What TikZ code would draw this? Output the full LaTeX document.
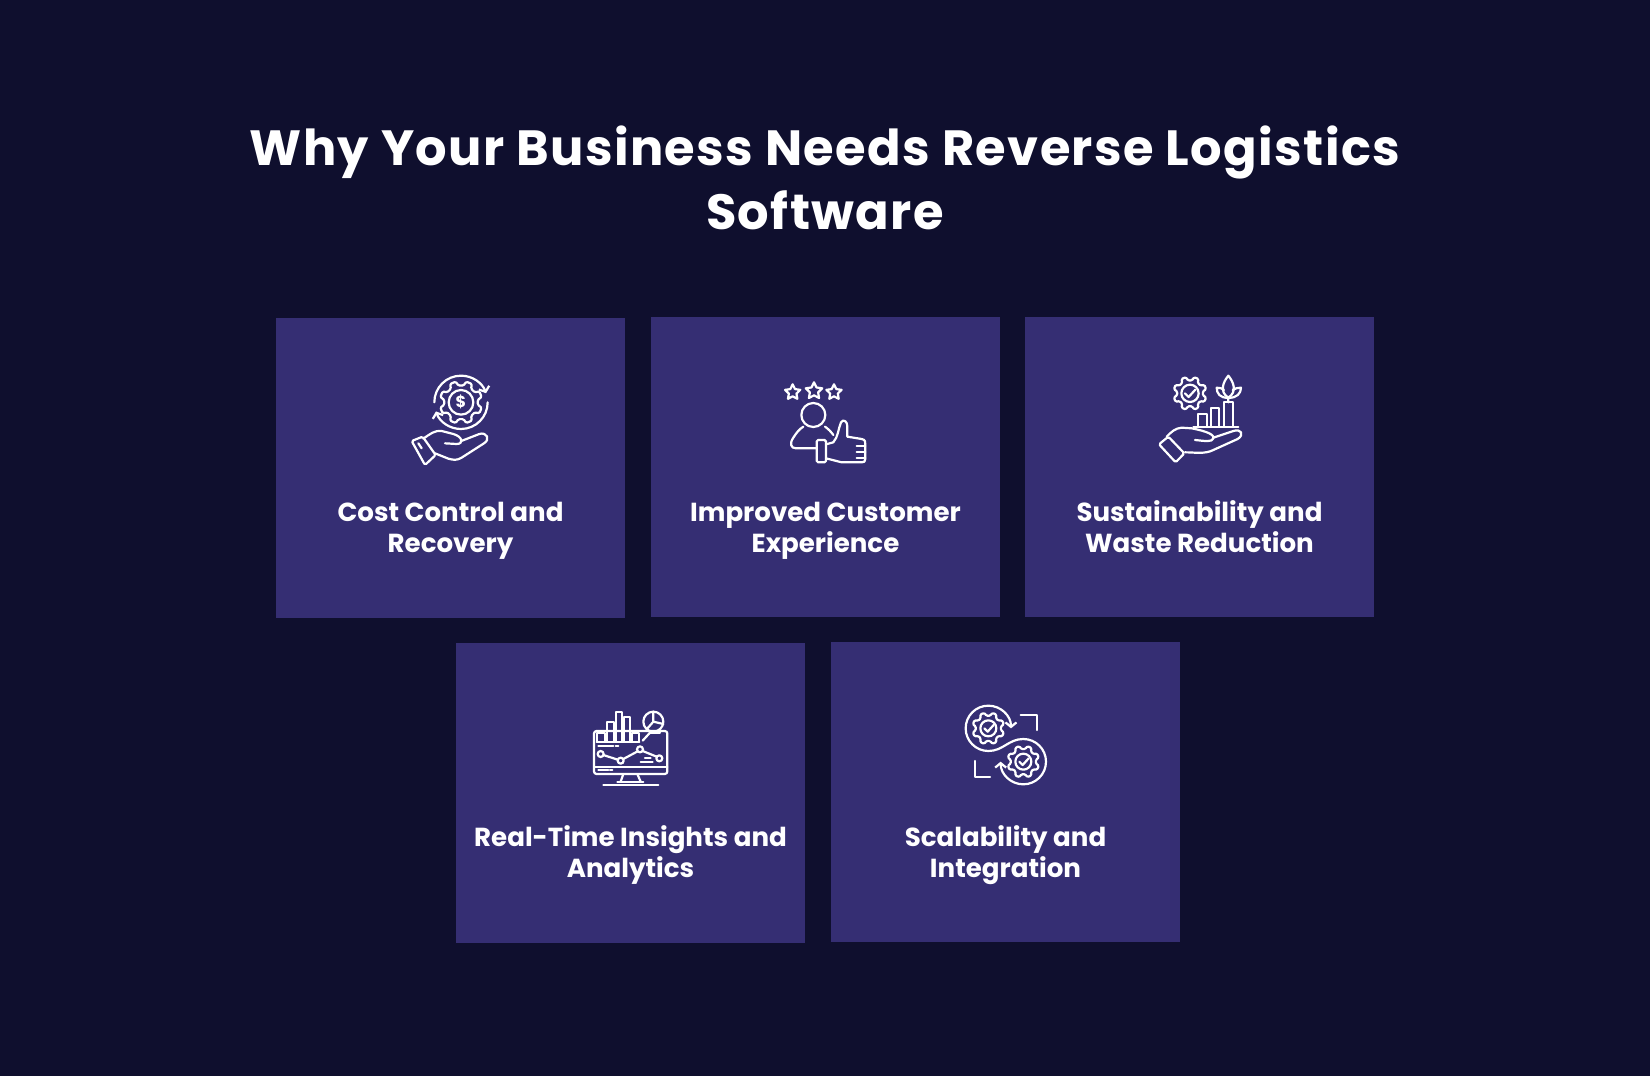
\documentclass[tikz,border=0pt]{standalone}
\usepackage{fontspec}
\setmainfont{Poppins}
\newfontfamily\headfont{Poppins}[LetterSpace=2.8]
\usepackage{xcolor}
\definecolor{pageNavy}{HTML}{0F0F2E}
\definecolor{cardIndigo}{HTML}{352E73}
\usetikzlibrary{arrows.meta, calc}

% gear outline: x, y, outer radius, inner radius
\newcommand{\gearicon}[4]{
  \begin{scope}[shift={(#1,#2)}]
    \draw[iconline, rounded corners=1.2pt] (8.5:#4)
      \foreach \k in {0,...,7} {
        -- ({45*\k+14.5}:#3) -- ({45*\k+30.5}:#3) -- ({45*\k+36.5}:#4) -- ({45*\k+53.5}:#4)
      } -- cycle;
  \end{scope}
}
% five pointed star: x, y, radius
\newcommand{\staricon}[3]{
  \begin{scope}[shift={(#1,#2)}]
    \draw[iconline] (-90:#3)
      \foreach \k in {0,...,4} {
        -- ({72*\k-54}:0.5*#3) -- ({72*\k-18}:#3)
      } -- cycle;
  \end{scope}
}

\begin{document}
\begin{tikzpicture}[x=1pt, y=-1pt,
  card/.style={fill=cardIndigo, minimum width=349pt, minimum height=300pt, inner sep=0pt},
  cardtext/.style={anchor=north, text=white, align=center, font=\fontsize{26.1}{30.5}\selectfont\bfseries},
  headline/.style={text=white, align=center, font=\fontsize{49.5}{64}\headfont\selectfont\bfseries},
  iconline/.style={draw=white, line width=2.2pt, line cap=round, line join=round},
  iconarrow/.style={iconline, {Straight Barb[length=4.5pt, width=11pt]}-{Straight Barb[length=4.5pt, width=11pt]}},
  iconcrop/.style 2 args={shift={(#1,#2)}, x=0.3333pt, y=-0.3333pt}]

  \fill[pageNavy] (0,0) rectangle (1650,1076);
  \useasboundingbox (0,0) rectangle (1650,1076);

  \node[headline] (title) at (825,178) {Why Your Business Needs Reverse Logistics\\Software};

  \node[card] (costCard) at (450.5,468) {};
  \node[card] (customerCard) at (825.5,467) {};
  \node[card] (wasteCard) at (1199.5,467) {};
  \node[card] (insightCard) at (630.5,793) {};
  \node[card] (scaleCard) at (1005.5,792) {};

  \node[cardtext] (costText) at ([yshift=-31pt]costCard.center) {Cost Control and\\Recovery};
  \node[cardtext] (customerText) at ([yshift=-32pt]customerCard.center) {Improved Customer\\Experience};
  \node[cardtext] (wasteText) at ([yshift=-30.5pt]wasteCard.center) {Sustainability and\\Waste Reduction};
  \node[cardtext] (insightText) at ([yshift=-29.5pt]insightCard.center) {Real-Time Insights and\\Analytics};
  \node[cardtext] (scaleText) at ([yshift=-30.5pt]scaleCard.center) {Scalability and\\Integration};

  % cost icon
  \begin{scope}[iconcrop={390}{360}]
    \gearicon{213}{127}{64}{51}
    \draw[iconline] (213,127) circle[radius=37];
    \node[text=white, font=\fontsize{16}{16}\selectfont\bfseries] (costDollar) at (213,127) {\$};
    \draw[iconline, -{Straight Barb[length=4.5pt, width=11pt]}] (213,127) ++(180:80) arc (180:340:80);
    \draw[iconline, -{Straight Barb[length=4.5pt, width=11pt]}] (213,127) ++(0:80) arc (0:160:80);
    \draw[iconline, rounded corners=1.5pt] (65,243) -- (98,230) -- (137,285) -- (105,315) -- cycle;
    \draw[iconline] (85,250) -- (95,265);
    \draw[iconline] (100,236) .. controls (120,222) and (135,210) .. (155,213) -- (190,222)
      .. controls (218,230) and (222,252) .. (200,252) -- (165,250);
    \draw[iconline] (214,243) -- (268,222) .. controls (290,215) and (302,238) .. (282,250)
      -- (215,293) .. controls (200,302) and (190,300) .. (175,296) -- (135,280);
  \end{scope}

  % customer icon
  \begin{scope}[iconcrop={770}{365}]
    \staricon{68}{82}{24}
    \staricon{132}{78}{26}
    \staricon{192}{82}{24}
    \draw[iconline] (130,150) circle[radius=36];
    \draw[iconline] (140,250) -- (78,250) .. controls (62,250) and (58,235) .. (70,218)
      .. controls (78,205) and (88,192) .. (100,185);
    \draw[iconline] (165,185) .. controls (175,192) and (183,200) .. (190,210);
    \draw[iconline, rounded corners=1.5pt] (140,225) rectangle (168,292);
    \draw[iconline] (168,238) -- (190,232) .. controls (205,215) and (205,190) .. (213,172)
      .. controls (220,160) and (233,170) .. (232,185) -- (232,215) -- (275,222)
      .. controls (287,224) and (286,232) .. (286,240) -- (286,282)
      .. controls (286,290) and (282,292) .. (275,292) -- (215,292) -- (168,280);
    \draw[iconline] (260,243) -- (286,243);
    \draw[iconline] (260,262) -- (286,262);
    \draw[iconline] (260,280) -- (286,280);
  \end{scope}

  % waste icon
  \begin{scope}[iconcrop={1145}{365}]
    \gearicon{135}{85}{50}{39}
    \draw[iconline] (135,85) circle[radius=26];
    \draw[iconline] (120,85) -- (131,96) -- (151,74);
    \draw[iconline] (160,183) -- (160,148) -- (185,148) -- (185,183);
    \draw[iconline] (197,183) -- (197,128) -- (223,128) -- (223,183);
    \draw[iconline] (238,183) -- (238,112) -- (265,112) -- (265,183);
    \draw[iconline] (145,187) -- (280,187);
    \draw[iconline] (250,112) -- (250,98) .. controls (222,80) and (235,50) .. (250,32)
      .. controls (265,50) and (278,80) .. (250,98);
    \draw[iconline] (250,98) .. controls (225,100) and (215,85) .. (215,68) .. controls (225,68) and (232,70) .. (237,75);
    \draw[iconline] (250,98) .. controls (275,100) and (288,85) .. (288,68) .. controls (278,68) and (270,70) .. (263,75);
    \draw[iconline, rounded corners=1.5pt] (42,238) -- (70,215) -- (118,265) -- (92,292) -- cycle;
    \draw[iconline] (65,215) .. controls (80,200) and (90,190) .. (110,188) -- (140,190)
      .. controls (165,195) and (210,205) .. (205,220) .. controls (202,232) and (180,228) .. (150,225);
    \draw[iconline] (205,218) -- (265,198) .. controls (290,190) and (298,210) .. (278,222)
      -- (205,255) .. controls (180,268) and (150,262) .. (120,262);
  \end{scope}

  % insight icon
  \begin{scope}[iconcrop={580}{700}]
    \draw[iconline, rounded corners=2.5pt] (42,93) rectangle (262,222);
    \draw[iconline] (52,125) -- (52,100) -- (75,100) -- (75,125);
    \draw[iconline] (82,125) -- (82,65) -- (103,65) -- (103,125);
    \draw[iconline] (108,125) -- (108,35) -- (125,35) -- (125,125);
    \draw[iconline] (132,125) -- (132,50) -- (150,50) -- (150,125);
    \draw[iconline] (155,125) -- (155,100) -- (178,100) -- (178,125);
    \draw[iconline] (50,125) -- (178,125);
    \draw[iconline] (55,137) -- (100,137);
    \draw[iconline] (107,137) -- (115,137);
    \draw[iconline] (220,65) circle[radius=30];
    \draw[iconline] (220,35) -- (220,65) -- (250,72);
    \draw[iconline] (220,65) -- (200,88);
    \draw[iconline] (188,122) -- (210,98) -- (240,98);
    \draw[iconline] (70,165) -- (113,179);
    \draw[iconline] (130,177) -- (173,154);
    \draw[iconline] (188,153) -- (230,170);
    \draw[iconline] (62,162) circle[radius=9];
    \draw[iconline] (122,182) circle[radius=9];
    \draw[iconline] (180,148) circle[radius=9];
    \draw[iconline] (238,175) circle[radius=9];
    \draw[iconline] (195,175) -- (212,175);
    \draw[iconline] (182,187) -- (218,187);
    \draw[iconline] (42,200) -- (262,200);
    \draw[iconline] (55,210) -- (85,210);
    \draw[iconline] (90,210) -- (97,210);
    \draw[iconline] (130,222) -- (122,245);
    \draw[iconline] (172,222) -- (182,245);
    \draw[iconline] (112,245) -- (190,245);
    \draw[iconline] (70,255) -- (235,255);
  \end{scope}

  % scale icon
  \begin{scope}[iconcrop={955}{695}]
    \gearicon{100}{100}{48}{38}
    \draw[iconline] (100,100) circle[radius=24];
    \draw[iconline] (88,100) -- (98,110) -- (116,90);
    \gearicon{205}{200}{48}{38}
    \draw[iconline] (205,200) circle[radius=24];
    \draw[iconline] (193,200) -- (203,210) -- (221,190);
    \draw[iconarrow] (168,100) arc (0:-270:68) .. controls (145,168) and (160,132) .. (205,132) arc (-90:180:68);
    \draw[iconline] (197,60) -- (245,60) -- (245,105);
    \draw[iconline] (60,198) -- (60,245) -- (105,245);
  \end{scope}
\end{tikzpicture}
\end{document}
